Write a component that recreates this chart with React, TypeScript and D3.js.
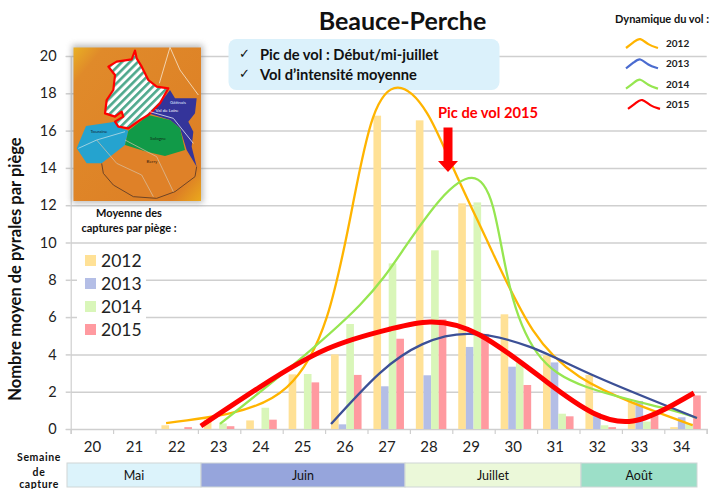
import React, { useEffect, useRef } from 'react';
import * as d3 from 'd3';

const weeks = ['20', '21', '22', '23', '24', '25', '26', '27', '28', '29', '30', '31', '32', '33', '34'];
const yTicks = [0, 2, 4, 6, 8, 10, 12, 14, 16, 18, 20];
const years = ['2012', '2013', '2014', '2015'];

// bar values, one per week
const bars2012 = [0, 0, 0.2, 0.5, 0.46, 2.93, 4.0, 16.8, 16.55, 12.1, 6.15, 3.95, 2.9, 1.45, 0.1];
const bars2013 = [0, 0, 0, 0, 0, 0, 0.25, 2.29, 2.88, 4.4, 3.34, 3.57, 0.86, 1.5, 0.63];
const bars2014 = [0, 0, 0, 0.3, 1.14, 2.95, 5.63, 8.88, 9.58, 12.15, 3.57, 0.82, 0.2, 0.4, 0.3];
const bars2015 = [0, 0, 0.1, 0.15, 0.5, 2.5, 2.9, 4.84, 5.88, 5.1, 2.36, 0.68, 0.1, 0.86, 1.8];

// trend curves: position in weeks, then value
const line2012Weeks = [21.75, 23.3, 24.6, 25.54, 26.16, 26.63, 27.22, 27.9, 28.51, 29.39, 30.4, 31.5, 32.76, 34.17];
const line2012Values = [0.32, 0.86, 2.25, 6.0, 12.1, 16.7, 18.3, 16.95, 14.05, 9.76, 5.3, 2.8, 1.4, 0.2];
const line2013Weeks = [25.64, 26.79, 27.8, 28.92, 30.33, 31.9, 34.27];
const line2013Values = [0.27, 3.0, 4.55, 5.1, 4.4, 2.8, 0.59];
const line2014Weeks = [23.02, 24.6, 26.32, 27.34, 28.21, 28.96, 29.46, 29.86, 30.5, 31.67, 33.47, 34.27];
const line2014Values = [0.27, 3.16, 6.65, 9.6, 12.28, 13.46, 11.9, 7.6, 4.08, 2.25, 1.13, 0.59];
const line2015Weeks = [22.57, 23.96, 25.54, 27.03, 27.97, 29.15, 30.73, 31.82, 32.76, 33.7, 34.2];
const line2015Values = [0.16, 2.25, 4.29, 5.36, 5.74, 5.04, 2.52, 0.86, 0.43, 1.29, 1.93];

const months = ['Mai', 'Juin', 'Juillet', 'Août'];
const monthEdges = [67, 201, 405, 581, 697];
const monthColors = ['#dcf3fb', '#96a5dc', '#ebf8d9', '#9cdfc8'];

const barColors = ['#ffe196', '#b4bee6', '#d9f6b9', '#ff9aa0'];
const lineColors = ['#ffb400', '#3c5096', '#96e650', '#ff0000'];
const legendLineColors = ['#ffb400', '#4a6bd0', '#96e650', '#ff0000'];

const FONT = 'Lato, "Open Sans", sans-serif';

const scaled = (pts: number[][]) => pts.map(p => `${p[0] / 3},${p[1] / 3}`).join(' ');

// inset map of the region
function RegionMap() {
  return (
    <g>
      <defs>
        <linearGradient id="mapBg" x1="0" y1="0" x2="1" y2="1">
          <stop offset="0" stopColor="#e9b024" />
          <stop offset="0.12" stopColor="#e08a2a" />
          <stop offset="0.88" stopColor="#dd7f25" />
          <stop offset="1" stopColor="#eaa91c" />
        </linearGradient>
        <pattern id="hatch" width="5.6" height="5.6" patternUnits="userSpaceOnUse" patternTransform="rotate(-45)">
          <rect width="5.6" height="5.6" fill="#ffffff" />
          <rect width="5.6" height="2.6" fill="#4da88c" />
        </pattern>
        <filter id="mapShadow" x="-10%" y="-10%" width="120%" height="120%">
          <feGaussianBlur stdDeviation="3" />
        </filter>
      </defs>
      <rect x="72" y="45" width="131" height="158" fill="#777" opacity="0.5" filter="url(#mapShadow)" />
      <rect x="73.5" y="47.5" width="127.5" height="153.5" fill="url(#mapBg)" />
      <polygon points={scaled([[305, 490], [375, 435], [440, 455], [495, 468], [555, 450], [590, 500], [585, 530], [525, 575], [470, 595], [400, 590], [340, 555], [310, 520]])} fill="#df8128" />
      <polyline points={scaled([[305, 490], [310, 520], [340, 555], [400, 590], [470, 595], [525, 575], [585, 530], [590, 500]])} fill="none" stroke="#6e4426" strokeWidth="1" />
      <polygon points={scaled([[258, 378], [345, 365], [355, 380], [385, 392], [375, 435], [305, 490], [260, 490], [230, 445]])} fill="#25a3cf" />
      <polygon points={scaled([[445, 340], [480, 310], [510, 270], [525, 295], [590, 295], [585, 340], [565, 365], [580, 395], [575, 440], [590, 500], [560, 450], [540, 385], [510, 360]])} fill="#34349a" />
      <polygon points={scaled([[385, 392], [420, 365], [445, 345], [510, 360], [540, 385], [555, 450], [495, 468], [440, 455], [375, 435]])} fill="#119a48" />
      <polygon points={scaled([[405, 152], [395, 178], [350, 185], [325, 200], [345, 225], [340, 270], [320, 300], [315, 340], [345, 350], [365, 335], [370, 350], [345, 365], [355, 380], [385, 385], [420, 360], [445, 345], [480, 310], [505, 265], [470, 260], [445, 240], [425, 200], [410, 175]])} fill="url(#hatch)" stroke="#ff0000" strokeWidth="2.2" strokeLinejoin="round" />
      <polyline points={scaled([[510, 142], [478, 250]])} fill="none" stroke="#f5e6d0" strokeWidth="0.8" />
      <polyline points={scaled([[510, 142], [540, 210], [595, 285]])} fill="none" stroke="#f5e6d0" strokeWidth="0.8" />
      <polyline points={scaled([[235, 445], [290, 420], [375, 395]])} fill="none" stroke="#cfe4ea" strokeWidth="0.7" />
      <polyline points={scaled([[290, 420], [350, 490], [425, 525], [460, 590]])} fill="none" stroke="#d9c3a8" strokeWidth="0.7" />
      <polyline points={scaled([[375, 420], [470, 470], [520, 575]])} fill="none" stroke="#d9c3a8" strokeWidth="0.7" />
      <polyline points={scaled([[450, 335], [520, 355], [580, 430]])} fill="none" stroke="#dfe6f5" strokeWidth="0.8" />
      <g fontFamily={FONT} fontSize="4.5" textAnchor="middle">
        <text x="99" y="133" fill="#123">Touraine</text>
        <text x="158" y="140" fill="#0c2a16">Sologne</text>
        <text x="152" y="163" fill="#3a2010">Berry</text>
        <text x="178" y="104" fill="#dfe6ff">Gâtinais</text>
        <text x="167" y="112" fill="#ffffff">Val de Loire</text>
      </g>
    </g>
  );
}

export default function App() {
  const chartRef = useRef<SVGGElement>(null);

  useEffect(() => {
    const left = 70.7;
    const right = 706.7;
    const zero = 429;
    const top = 56;

    const x = d3.scaleBand().domain(weeks).range([left, right]).paddingInner(0.28).paddingOuter(0.14);
    const xInner = d3.scaleBand().domain(years).range([0, x.bandwidth()]);
    const xEdges = d3.scaleLinear().domain([0, weeks.length]).range([left, right]);
    const xWeek = d3.scaleLinear()
      .domain([20, 34])
      .range([x('20')! + x.bandwidth() / 2, x('34')! + x.bandwidth() / 2]);
    // the week labels were placed by hand in the original and drift left of the bands
    const xLabel = d3.scalePoint().domain(weeks).range([92, 681]);
    const y = d3.scaleLinear().domain([0, 20]).range([zero, top]);

    const g = d3.select(chartRef.current);
    g.selectAll('*').remove();

    // gridlines
    const grid = g.append('g').attr('transform', `translate(${left},0)`)
      .call(d3.axisLeft(y).tickValues(yTicks.slice(1)).tickSize(-(right - left)).tickFormat(() => ''));
    grid.select('.domain').remove();
    grid.selectAll('line').attr('stroke', '#cfcfcf').attr('stroke-width', 1.5);

    // white patch of the bar legend cuts the gridlines
    g.append('rect').attr('x', 77).attr('y', 246).attr('width', 69).attr('height', 98).attr('fill', '#fff');

    // blue note box sits over the grid, under the curves
    g.append('rect').attr('x', 228.5).attr('y', 39).attr('width', 271).attr('height', 51).attr('rx', 8).attr('fill', '#dbf1fb');

    // y axis
    const yAxis = g.append('g').attr('transform', `translate(${left},0)`)
      .call(d3.axisLeft(y).tickValues(yTicks).tickSize(5).tickPadding(9));
    yAxis.select('.domain').attr('stroke', '#cfcfcf').attr('stroke-width', 1.2);
    yAxis.selectAll('line').attr('stroke', '#cfcfcf').attr('stroke-width', 1.5);
    yAxis.selectAll('text').attr('font-family', FONT).attr('font-size', 14.5).attr('fill', '#222');

    // x axis: ticks sit on the band edges, labels apart
    const xTicks = g.append('g').attr('transform', `translate(0,${zero})`)
      .call(d3.axisBottom(xEdges).tickValues(d3.range(weeks.length + 1)).tickSize(5).tickFormat(() => ''));
    xTicks.select('.domain').attr('stroke', '#cfcfcf').attr('stroke-width', 1.5);
    xTicks.selectAll('line').attr('stroke', '#cfcfcf').attr('stroke-width', 1.2);

    const xLabels = g.append('g').attr('transform', `translate(0,${zero})`)
      .call(d3.axisBottom(xLabel).tickSize(0).tickPadding(12));
    xLabels.select('.domain').remove();
    xLabels.selectAll('text').attr('font-family', FONT).attr('font-size', 15).attr('fill', '#222');

    // bars
    [bars2012, bars2013, bars2014, bars2015].forEach((vals, i) => {
      g.append('g').selectAll('rect')
        .data(vals)
        .join('rect')
        .attr('x', (_, k) => x(weeks[k])! + xInner(years[i])!)
        .attr('width', xInner.bandwidth())
        .attr('y', d => y(d))
        .attr('height', d => zero - y(d))
        .attr('fill', barColors[i]);
    });

    // trend curves
    const curves = [
      [line2012Weeks, line2012Values, 2.3],
      [line2013Weeks, line2013Values, 2.3],
      [line2014Weeks, line2014Values, 2.3],
      [line2015Weeks, line2015Values, 5],
    ] as [number[], number[], number][];
    const order = [0, 2, 1, 3];
    order.forEach(i => {
      const [w, v, sw] = curves[i];
      const line = d3.line<number>()
        .x(d => xWeek(d))
        .y((_, k) => y(v[k]))
        .curve(d3.curveNatural);
      g.append('path')
        .attr('d', line(w))
        .attr('fill', 'none')
        .attr('stroke', lineColors[i])
        .attr('stroke-width', sw);
    });

    // month strip
    const strip = g.append('g');
    strip.selectAll('rect').data(months).join('rect')
      .attr('x', (_, i) => monthEdges[i])
      .attr('y', 463)
      .attr('width', (_, i) => monthEdges[i + 1] - monthEdges[i])
      .attr('height', 24)
      .attr('fill', (_, i) => monthColors[i])
      .attr('stroke', '#cfd6d6')
      .attr('stroke-width', 1);
    strip.selectAll('text').data(months).join('text')
      .attr('x', (_, i) => (monthEdges[i] + monthEdges[i + 1]) / 2)
      .attr('y', 479.5)
      .attr('text-anchor', 'middle')
      .attr('font-family', FONT)
      .attr('font-size', 12.5)
      .attr('fill', '#111')
      .text(d => d);

    // legends
    const barLegend = g.append('g');
    years.forEach((yr, i) => {
      barLegend.append('rect').attr('x', 85).attr('y', 255 + i * 23).attr('width', 11).attr('height', 11).attr('fill', barColors[i]);
      barLegend.append('text').attr('x', 101).attr('y', 267 + i * 23)
        .attr('font-family', FONT).attr('font-size', 17.5).attr('fill', '#222').text(yr);
    });
    const wave = d3.line().curve(d3.curveBasis);
    const lineLegend = g.append('g');
    years.forEach((yr, i) => {
      const cy = 43 + i * 20.3;
      const x0 = i === 3 ? 628 : 626;
      lineLegend.append('path')
        .attr('d', wave([[x0, cy + 5], [x0 + 8, cy - 1], [x0 + 14, cy - 6], [x0 + 22, cy + 2], [x0 + 32, cy + 5]]))
        .attr('fill', 'none').attr('stroke', legendLineColors[i]).attr('stroke-width', 2.2);
      lineLegend.append('text').attr('x', 666).attr('y', cy + 4)
        .attr('font-family', FONT).attr('font-weight', 700).attr('font-size', 10).attr('fill', '#222').text(yr);
    });
  }, []);

  return (
    <svg width={713} height={489} style={{ position: 'absolute', left: 0, top: 0 }} fontFamily={FONT}>
      <rect width={713} height={489} fill="#fff" />
      <g ref={chartRef} />
      <RegionMap />

      <text x={402.5} y={30} textAnchor="middle" fontSize={25} fontWeight={700} fill="#111">Beauce-Perche</text>

      <g fontSize={14.7} fontWeight={700} fill="#111">
        <text x={239} y={58} fontFamily="DejaVu Sans" fontSize={13} fontWeight={400}>✓</text>
        <text x={260} y={60}>Pic de vol : Début/mi-juillet</text>
        <text x={239} y={78} fontFamily="DejaVu Sans" fontSize={13} fontWeight={400}>✓</text>
        <text x={260} y={80}>Vol d’intensité moyenne</text>
      </g>

      <text x={438} y={118} fontSize={14.7} fontWeight={700} fill="#ff0000">Pic de vol 2015</text>
      <polygon points="443.5,127.5 452.5,127.5 452.5,161 458,161 448,172 438,161 443.5,161" fill="#ff0000" />

      <g fontSize={11} fontWeight={700} fill="#111" textAnchor="middle">
        <text x={129} y={217}>Moyenne des</text>
        <text x={129} y={232}>captures par piège :</text>
        <text x={662} y={23}>Dynamique du vol :</text>
      </g>
      <g fontSize={10.5} fontWeight={700} fill="#111" textAnchor="middle" letterSpacing={0.6}>
        <text x={39} y={461}>Semaine</text>
        <text x={39} y={476}>de</text>
        <text x={39} y={488}>capture</text>
      </g>

      <text transform="translate(21,269) rotate(-90)" textAnchor="middle" fontSize={16.5} fontWeight={700} fill="#111">Nombre moyen de pyrales par piège</text>
    </svg>
  );
}
